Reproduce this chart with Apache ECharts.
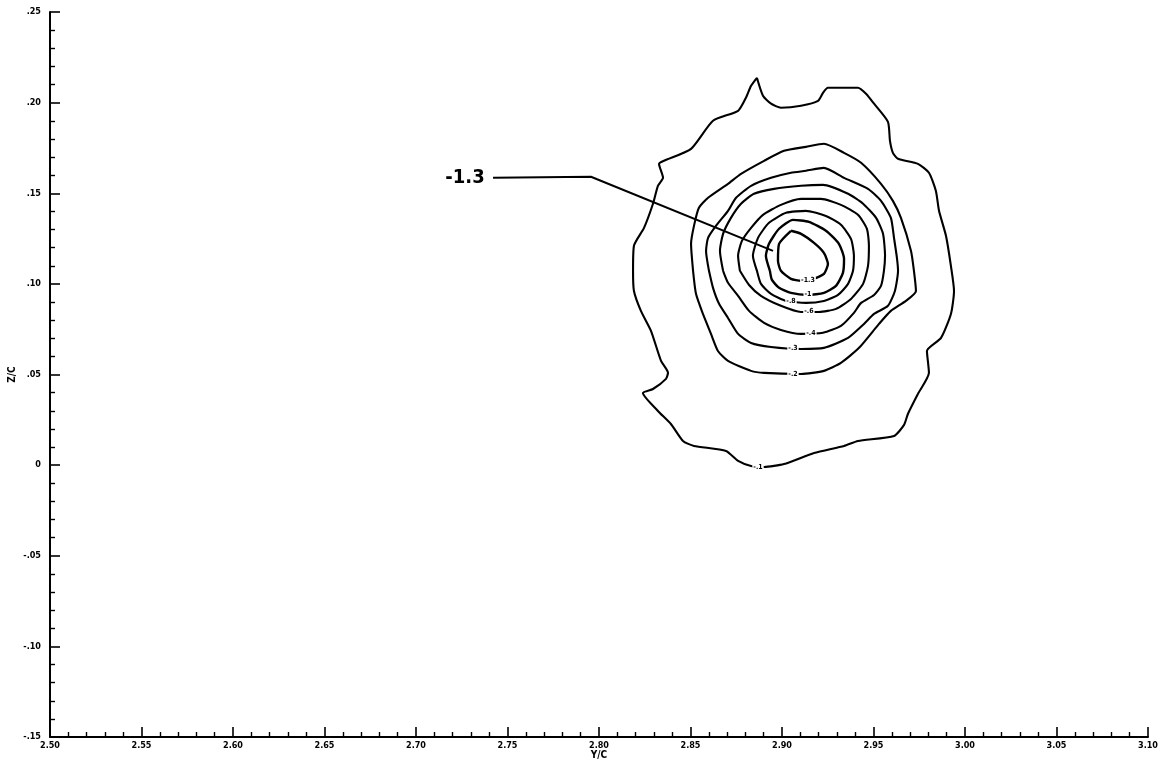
<!DOCTYPE html>
<html>
<head>
<meta charset="utf-8">
<script src="https://cdn.jsdelivr.net/npm/echarts@6.0.0/dist/echarts.min.js"></script>
<style>
  html, body { margin: 0; padding: 0; background: #fff; }
  #chart { width: 1172px; height: 765px; }
</style>
</head>
<body>
<div id="chart"></div>
<script>
// Contour plot of Z/C against Y/C: closed level curves -.1 ... -1.3

const xRange = [2.50, 3.10];
const yRange = [-0.15, 0.25];
const tickStep = 0.05;

const levelNames = ['-.1', '-.2', '-.3', '-.4', '-.6', '-.8', '-1', '-1.3'];

// level -.1 (outermost)
const contourA = [
  [2.8863, 0.2137], [2.8896, 0.2038], [2.8940, 0.1994], [2.8994, 0.1972], [2.9104, 0.1983],
  [2.9197, 0.2010], [2.9224, 0.2054], [2.9251, 0.2082], [2.9415, 0.2082], [2.9459, 0.2049],
  [2.9503, 0.1994], [2.9579, 0.1894], [2.9590, 0.1789], [2.9606, 0.1723], [2.9634, 0.1690],
  [2.9743, 0.1662], [2.9803, 0.1613], [2.9841, 0.1513], [2.9858, 0.1403], [2.9896, 0.1265],
  [2.9923, 0.1099], [2.9940, 0.0961], [2.9923, 0.0834], [2.9869, 0.0702], [2.9792, 0.0630],
  [2.9803, 0.0509], [2.9743, 0.0393], [2.9688, 0.0282], [2.9667, 0.0222], [2.9612, 0.0161],
  [2.9415, 0.0133], [2.9339, 0.0106], [2.9175, 0.0067], [2.9011, 0.0006], [2.8902, -0.0010],
  [2.8831, -0.0005], [2.8760, 0.0023], [2.8694, 0.0078], [2.8519, 0.0106], [2.8459, 0.0133],
  [2.8393, 0.0227], [2.8322, 0.0299], [2.8240, 0.0398], [2.8295, 0.0420], [2.8366, 0.0476],
  [2.8377, 0.0509], [2.8339, 0.0575], [2.8284, 0.0741], [2.8229, 0.0851], [2.8191, 0.0961],
  [2.8186, 0.1072], [2.8191, 0.1210], [2.8246, 0.1309], [2.8295, 0.1442], [2.8322, 0.1541],
  [2.8350, 0.1585], [2.8328, 0.1662], [2.8355, 0.1679], [2.8503, 0.1745], [2.8623, 0.1900],
  [2.8760, 0.1955], [2.8803, 0.2027], [2.8831, 0.2093], [2.8863, 0.2137]
];

// level -.2
const contourB = [
  [2.8514, 0.1072], [2.8503, 0.1221], [2.8519, 0.1320], [2.8546, 0.1420], [2.8596, 0.1475],
  [2.8705, 0.1552], [2.8776, 0.1607], [2.8902, 0.1679], [2.9011, 0.1734], [2.9131, 0.1756],
  [2.9229, 0.1773], [2.9339, 0.1723], [2.9432, 0.1668], [2.9541, 0.1552], [2.9606, 0.1458],
  [2.9650, 0.1364], [2.9705, 0.1182], [2.9721, 0.1072], [2.9732, 0.0961], [2.9677, 0.0906],
  [2.9595, 0.0851], [2.9530, 0.0779], [2.9421, 0.0647], [2.9322, 0.0564], [2.9229, 0.0520],
  [2.9104, 0.0503], [2.8902, 0.0509], [2.8831, 0.0520], [2.8705, 0.0575], [2.8650, 0.0630],
  [2.8612, 0.0724], [2.8568, 0.0834], [2.8530, 0.0945], [2.8514, 0.1072]
];

// level -.3
const contourC = [
  [2.8601, 0.1072], [2.8585, 0.1182], [2.8596, 0.1254], [2.8639, 0.1320], [2.8705, 0.1403],
  [2.8749, 0.1475], [2.8831, 0.1541], [2.8940, 0.1585], [2.9049, 0.1613], [2.9131, 0.1624],
  [2.9229, 0.1640], [2.9339, 0.1585], [2.9470, 0.1524], [2.9541, 0.1458], [2.9595, 0.1364],
  [2.9612, 0.1254], [2.9628, 0.1144], [2.9634, 0.1072], [2.9617, 0.0961], [2.9579, 0.0879],
  [2.9503, 0.0834], [2.9448, 0.0779], [2.9361, 0.0702], [2.9229, 0.0647], [2.9104, 0.0641],
  [2.8940, 0.0652], [2.8831, 0.0674], [2.8760, 0.0724], [2.8705, 0.0812], [2.8656, 0.0890],
  [2.8623, 0.0978], [2.8601, 0.1072]
];

// level -.4
const contourD = [
  [2.8678, 0.1072], [2.8661, 0.1182], [2.8678, 0.1276], [2.8721, 0.1364], [2.8776, 0.1442],
  [2.8847, 0.1497], [2.8956, 0.1524], [2.9104, 0.1541], [2.9224, 0.1546], [2.9361, 0.1497],
  [2.9443, 0.1442], [2.9514, 0.1364], [2.9552, 0.1276], [2.9563, 0.1155], [2.9557, 0.1072],
  [2.9541, 0.0989], [2.9503, 0.0939], [2.9432, 0.0895], [2.9393, 0.0840], [2.9322, 0.0768],
  [2.9224, 0.0730], [2.9104, 0.0724], [2.8994, 0.0746], [2.8902, 0.0785], [2.8820, 0.0851],
  [2.8760, 0.0934], [2.8705, 0.1006], [2.8678, 0.1072]
];

// level -.6
const contourE = [
  [2.8770, 0.1072], [2.8760, 0.1155], [2.8781, 0.1237], [2.8831, 0.1309], [2.8896, 0.1381],
  [2.8994, 0.1436], [2.9104, 0.1469], [2.9213, 0.1469], [2.9322, 0.1436], [2.9415, 0.1381],
  [2.9464, 0.1304], [2.9475, 0.1210], [2.9470, 0.1099], [2.9443, 0.1000], [2.9377, 0.0917],
  [2.9295, 0.0862], [2.9202, 0.0845], [2.9104, 0.0845], [2.8994, 0.0879], [2.8885, 0.0934],
  [2.8820, 0.0994], [2.8770, 0.1072]
];

// level -.8
const contourF = [
  [2.8863, 0.1072], [2.8841, 0.1155], [2.8869, 0.1254], [2.8929, 0.1337], [2.9022, 0.1392],
  [2.9131, 0.1403], [2.9240, 0.1375], [2.9322, 0.1326], [2.9377, 0.1248], [2.9393, 0.1155],
  [2.9388, 0.1072], [2.9361, 0.1000], [2.9306, 0.0939], [2.9229, 0.0906], [2.9131, 0.0895],
  [2.9022, 0.0906], [2.8940, 0.0945], [2.8885, 0.1000], [2.8863, 0.1072]
];

// level -1
const contourG = [
  [2.8934, 0.1072], [2.8912, 0.1155], [2.8929, 0.1221], [2.8984, 0.1304], [2.9060, 0.1353],
  [2.9147, 0.1342], [2.9240, 0.1293], [2.9311, 0.1221], [2.9339, 0.1138], [2.9333, 0.1061],
  [2.9295, 0.0989], [2.9229, 0.0950], [2.9142, 0.0939], [2.9049, 0.0950], [2.8984, 0.0978],
  [2.8945, 0.1022], [2.8934, 0.1072]
];

// level -1.3 (innermost)
const contourH = [
  [2.9049, 0.1293], [2.8984, 0.1221], [2.8978, 0.1127], [2.8994, 0.1072], [2.9049, 0.1028],
  [2.9104, 0.1017], [2.9175, 0.1028], [2.9229, 0.1055], [2.9251, 0.1110], [2.9229, 0.1171],
  [2.9175, 0.1226], [2.9104, 0.1276], [2.9049, 0.1293]
];

const contours = [contourA, contourB, contourC, contourD, contourE, contourF, contourG, contourH];

// where each level value is written on its curve
const levelLabelAt = [
  [2.8869, -0.0012], [2.9060, 0.0500], [2.9060, 0.0645], [2.9158, 0.0726],
  [2.9147, 0.0847], [2.9049, 0.0902], [2.9142, 0.0943], [2.9142, 0.1020]
];

// call-out naming the innermost level
const calloutText = '-1.3';
const calloutAt = [2.7268, 0.1585];
const calloutLine = [[2.7421, 0.1585], [2.7956, 0.1591], [2.8951, 0.1182]];

const tickFont = "'DejaVu Sans Condensed', 'Liberation Sans Narrow', sans-serif";

function fmtX(v) { return v.toFixed(2); }
function fmtY(v) {
  if (Math.abs(v) < 1e-9) return '0';
  const s = Math.abs(v).toFixed(2).replace(/^0/, '');
  return (v < 0 ? '-' : '') + s;
}

const axisCommon = {
  type: 'value',
  interval: tickStep,
  axisLine: { onZero: false, lineStyle: { color: '#000', width: 2 } },
  axisTick: { inside: true, length: 10, lineStyle: { color: '#000', width: 1.6 } },
  minorTick: { show: true, splitNumber: 5, length: 5, lineStyle: { color: '#000', width: 1.4 } },
  splitLine: { show: false },
  minorSplitLine: { show: false },
  nameMoveOverlap: false,
  nameTextStyle: { color: '#000', fontSize: 10, fontWeight: 'bold', fontFamily: tickFont }
};

const series = contours.map((pts, i) => ({
  type: 'line',
  name: levelNames[i],
  data: pts,
  showSymbol: false,
  symbol: 'none',
  smooth: 0.2,
  animation: false,
  lineStyle: { color: '#000', width: i >= 6 ? 2.4 : 2.1 },
  z: 2
}));

series.push({
  type: 'scatter',
  data: levelLabelAt.map((p, i) => ({ value: p, name: levelNames[i] })),
  symbolSize: 0,
  animation: false,
  itemStyle: { opacity: 1 },
  z: 5,
  label: {
    show: true,
    position: 'inside',
    formatter: p => p.name,
    color: '#000',
    fontSize: 7,
    fontWeight: 'bold',
    fontFamily: tickFont,
    backgroundColor: '#fff',
    padding: [0, 1]
  }
});

series.push({
  type: 'line',
  data: calloutLine,
  showSymbol: false,
  symbol: 'none',
  animation: false,
  lineStyle: { color: '#000', width: 2 },
  z: 3
});

series.push({
  type: 'scatter',
  data: [{ value: calloutAt, name: calloutText }],
  symbolSize: 0,
  animation: false,
  itemStyle: { opacity: 1 },
  z: 6,
  label: {
    show: true,
    position: 'inside',
    formatter: p => p.name,
    color: '#000',
    opacity: 1,
    textBorderWidth: 0,
    fontSize: 20,
    fontWeight: 'bold',
    fontFamily: tickFont
  }
});

const chart = echarts.init(document.getElementById('chart'), null, { renderer: 'canvas' });
chart.setOption({
  backgroundColor: '#fff',
  animation: false,
  grid: { left: 50, right: 24, top: 12, bottom: 28, containLabel: false, outerBoundsMode: 'none' },
  xAxis: Object.assign({}, axisCommon, {
    min: xRange[0], max: xRange[1],
    name: 'Y/C', nameLocation: 'middle', nameGap: 13,
    axisLabel: { formatter: fmtX, color: '#000', fontSize: 9, fontWeight: 'bold', fontFamily: tickFont, margin: 4 }
  }),
  yAxis: Object.assign({}, axisCommon, {
    min: yRange[0], max: yRange[1],
    name: 'Z/C', nameLocation: 'middle', nameGap: 33, nameRotate: 90,
    axisLabel: { formatter: fmtY, color: '#000', fontSize: 9, fontWeight: 'bold', fontFamily: tickFont, margin: 9 }
  }),
  series: series
});
</script>
</body>
</html>
